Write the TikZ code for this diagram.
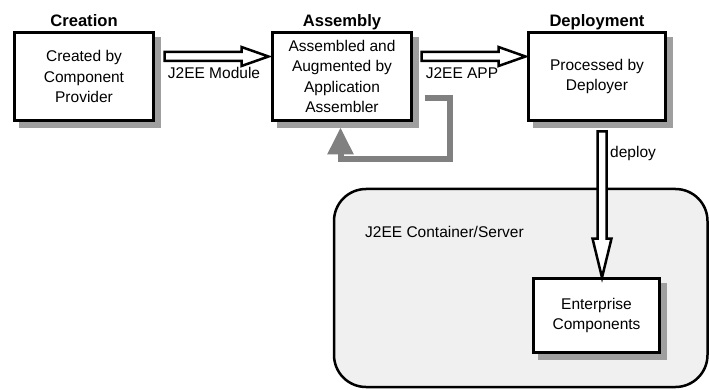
\documentclass[tikz,border=0pt]{standalone}
\usepackage{fontspec}
\setmainfont{Liberation Sans}
\usetikzlibrary{calc,arrows.meta,shadows,positioning}

\begin{document}
\begin{tikzpicture}[x=1pt,y=-1pt,
		font=\fontsize{15.5}{20.3}\selectfont,
		stage/.style={draw, line width=3pt, fill=white, align=center, inner sep=0pt,
			minimum width=139, minimum height=88,
			drop shadow={shadow xshift=6pt, shadow yshift=-6pt, fill=gray!75, draw=gray!75, opacity=1}},
		stagetitle/.style={anchor=base, inner sep=0pt, font=\fontsize{16.6}{20}\selectfont\bfseries},
		hollow/.style={draw, line width=2.5pt, fill=white, line join=miter},
		loopback/.style={draw=gray, line width=6pt, -{Triangle[width=25pt,length=27pt]}},
		server/.style={draw, line width=2.5pt, fill=gray!12, rounded corners=32pt,
			minimum width=373.5, minimum height=198}]
	\useasboundingbox (0,0) rectangle (709,390);
	% container behind everything
	\node[server] (container) at (520.75,288) {};
	\node[anchor=west, inner sep=0pt] (containerlabel) at (365,232) {J2EE Container/Server};

	\node[stage] (create) at (84,76.5) {Created by\\Component\\Provider};
	\node[stage] (assem) at (342,76.5) {Assembled and\\Augmented by\\Application\\Assembler};
	\node[stage, minimum width=137] (depl) at (597,76.5) {Processed by\\Deployer};
	\node[stage, minimum width=126, minimum height=74] (ent) at (596.5,315.5) {Enterprise\\Components};

	\node[stagetitle] (createtitle) at ($(create.north)+(0,-4.5)$) {Creation};
	\node[stagetitle] (assemtitle) at ($(assem.north)+(0,-4.5)$) {Assembly};
	\node[stagetitle] (depltitle) at ($(depl.north)+(0,-4.5)$) {Deployment};

	% hollow arrows
	\draw[hollow] (create.east) ++(9.5,-24.5) -- ++(77,0) -- ++(0,-5) -- ++(27,9.5) -- ++(-27,9.5) -- ++(0,-5) -- ++(-77,0) -- cycle;
	\draw[hollow] (assem.east) ++(8.5,-24.5) -- ++(77,0) -- ++(0,-5) -- ++(27,9.5) -- ++(-27,9.5) -- ++(0,-5) -- ++(-77,0) -- cycle;
	\draw[hollow] (depl.south) ++(0.5,9.5) -- ++(0,107) -- ++(-5,0) -- ++(9.5,39) -- ++(9.5,-39) -- ++(-5,0) -- ++(0,-107) -- cycle;
	\node (modlabel) at (214,73) {J2EE Module};
	\node (applabel) at (462,73) {J2EE APP};
	\node[anchor=west, inner sep=0pt] (deploylabel) at (610,153) {deploy};

	\draw[loopback] ($(assem.east)+(11.5,21.5)$) -| ($(assem.east)+(36.5,82.5)$) -| ($(assem.south)+(-1.5,5.5)$);
\end{tikzpicture}
\end{document}
